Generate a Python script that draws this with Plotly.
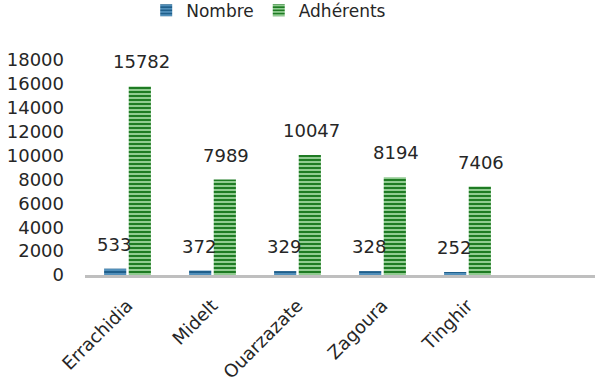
import plotly.graph_objects as go

categories = ["Errachidia", "Midelt", "Ouarzazate", "Zagoura", "Tinghir", " "]
nombre = [533, 372, 329, 328, 252, None]
adherents = [15782, 7989, 10047, 8194, 7406, None]
series_names = ["Nombre", "Adhérents"]

FONT = "DejaVu Sans, sans-serif"
TXT = "#262626"

fig = go.Figure()
fig.add_bar(
    x=categories, y=nombre, name=series_names[0],
    marker=dict(color="#1F5F8B", line=dict(width=0),
                pattern=dict(shape="-", fgcolor="#5E9CC6", bgcolor="#1F5F8B",
                             size=4, solidity=0.4, fillmode="replace")),
)
fig.add_bar(
    x=categories, y=adherents, name=series_names[1],
    marker=dict(color="#1E7B23", line=dict(width=0),
                pattern=dict(shape="-", fgcolor="#9ED49E", bgcolor="#1E7B23",
                             size=4, solidity=0.45, fillmode="replace")),
)

annotations = []
for vals, shift in ((nombre, -13.5), (adherents, 13.5)):
    for c, v in zip(categories, vals):
        if v is None:
            continue
        annotations.append(dict(
            x=c, y=v, xref="x", yref="y", text=str(v), showarrow=False,
            xshift=shift, yshift=12, yanchor="bottom",
            font=dict(family=FONT, size=18, color=TXT),
        ))

fig.update_layout(
    width=600, height=386,
    margin=dict(l=85, r=5, t=60, b=111, autoexpand=False),
    paper_bgcolor="white", plot_bgcolor="white",
    barmode="group", bargap=0.42, bargroupgap=0.1,
    font=dict(family=FONT, size=18, color=TXT),
    showlegend=True,
    legend=dict(orientation="h", x=0.12, xanchor="left",
                yref="container", y=0.972, yanchor="middle",
                font=dict(family=FONT, size=17, color=TXT),
                itemwidth=30, tracegroupgap=0),
    annotations=annotations,
)
fig.update_xaxes(
    type="category", showgrid=False, zeroline=False, automargin=False,
    showline=True, linecolor="#BFBFBF", linewidth=3,
    tickangle=-45, ticks="", ticklabelstandoff=10,
    tickfont=dict(family=FONT, size=18, color=TXT),
)
fig.update_yaxes(
    range=[0, 18000], dtick=2000, tickformat="d", showgrid=False, zeroline=False,
    showline=False, ticks="", ticklabelstandoff=20, automargin=False,
    tickfont=dict(family=FONT, size=18, color=TXT),
)

fig.write_html("out.html", config={"displayModeBar": False},
               post_script="document.body.style.margin='0';")
